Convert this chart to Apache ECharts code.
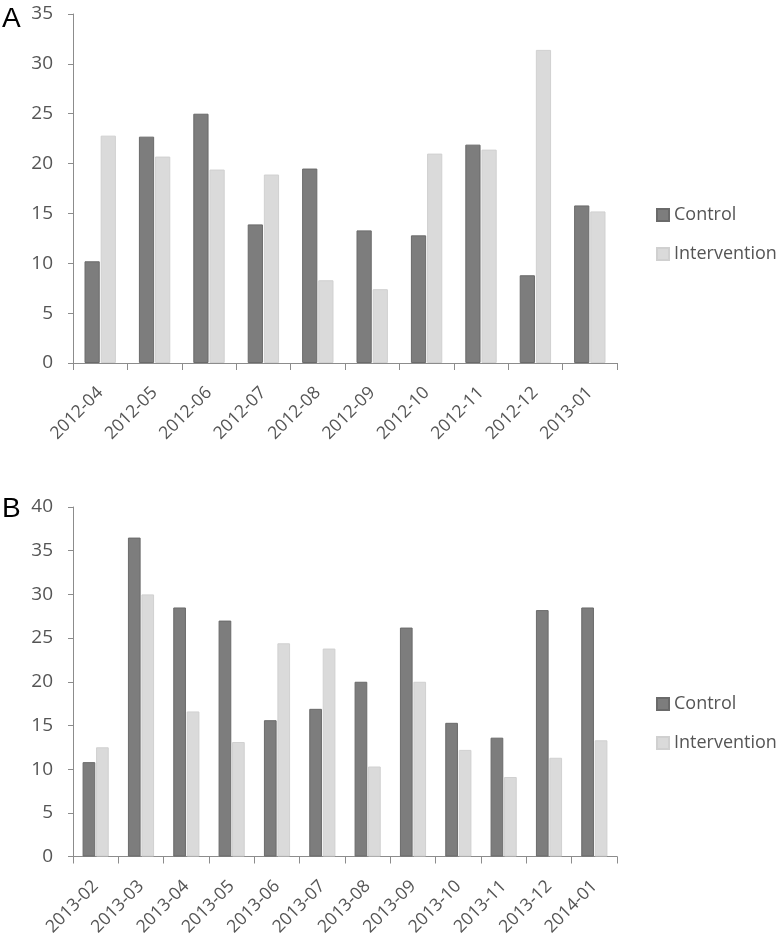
<!DOCTYPE html>
<html>
<head>
<meta charset="utf-8">
<script src="https://cdn.jsdelivr.net/npm/echarts@6/dist/echarts.min.js"></script>
<style>html,body{margin:0;padding:0;background:#fff;}#c{width:780px;height:942px;}</style>
</head>
<body>
<div id="c"></div>
<script>
// Panel A
const catsA = ['2012-04','2012-05','2012-06','2012-07','2012-08','2012-09','2012-10','2012-11','2012-12','2013-01'];
const controlA = [10.2, 22.7, 25.0, 13.9, 19.5, 13.3, 12.8, 21.9, 8.8, 15.8];
const interventionA = [22.8, 20.7, 19.4, 18.9, 8.3, 7.4, 21.0, 21.4, 31.4, 15.2];
// Panel B
const catsB = ['2013-02','2013-03','2013-04','2013-05','2013-06','2013-07','2013-08','2013-09','2013-10','2013-11','2013-12','2014-01'];
const controlB = [10.8, 36.5, 28.5, 27.0, 15.6, 16.9, 20.0, 26.2, 15.3, 13.6, 28.2, 28.5];
const interventionB = [12.5, 30.0, 16.6, 13.1, 24.4, 23.8, 10.3, 20.0, 12.2, 9.1, 11.3, 13.3];
const seriesNames = ['Control', 'Intervention'];
const panelLabels = ['A', 'B'];

const FONT = '"Open Sans", "Noto Sans", sans-serif';
const TXT = '#555555';
const AX = '#8c8c8c';
const C_CTRL = '#7d7d7d';
const C_INT = '#dadada';

function xAx(cats, gi) {
  return {
    type: 'category', gridIndex: gi, data: cats,
    axisLine: {lineStyle: {color: AX, width: 1}},
    axisTick: {show: true, length: 7, lineStyle: {color: AX}, alignWithLabel: false},
    axisLabel: {rotate: 45, interval: 0, margin: 27, color: TXT, fontFamily: FONT, fontSize: 17.5}
  };
}
function yAx(max, gi) {
  return {
    type: 'value', gridIndex: gi, min: 0, max: max, interval: 5,
    axisLine: {show: true, lineStyle: {color: AX, width: 1}},
    axisTick: {show: true, length: 5, lineStyle: {color: AX}},
    splitLine: {show: false},
    axisLabel: {margin: 20, color: TXT, fontFamily: FONT, fontSize: 19}
  };
}
function bar(name, data, gi, color, border) {
  return {
    name: name, type: 'bar', xAxisIndex: gi, yAxisIndex: gi, data: data,
    barWidth: '28%', barGap: '6%',
    itemStyle: {color: color, borderColor: border, borderWidth: 1},
    emphasis: {disabled: true}
  };
}
function legend(top) {
  return {
    orient: 'vertical', left: 651, top: top, itemWidth: 12, itemHeight: 12, itemGap: 19,
    icon: 'rect', data: seriesNames,
    textStyle: {color: TXT, fontFamily: FONT, fontSize: 18, lineHeight: 20}
  };
}
function title(text, top) {
  return {
    text: text, left: 2, top: top, padding: 0,
    textStyle: {color: '#000', fontSize: 28, fontWeight: 'normal', fontFamily: '"Liberation Sans", Arial, sans-serif'}
  };
}

const chart = echarts.init(document.getElementById('c'), null, {renderer: 'canvas'});
chart.setOption({
  animation: false,
  backgroundColor: '#fff',
  title: [title(panelLabels[0], 5), title(panelLabels[1], 495)],
  grid: [
    {left: 73, right: 163, top: 14, height: 349},
    {left: 73, right: 163, top: 507, height: 349.5}
  ],
  xAxis: [xAx(catsA, 0), xAx(catsB, 1)],
  yAxis: [yAx(35, 0), yAx(40, 1)],
  legend: [legend(200), legend(689)],
  series: [
    bar(seriesNames[0], controlA, 0, C_CTRL, '#6a6a6a'),
    bar(seriesNames[1], interventionA, 0, C_INT, '#d0d0d0'),
    bar(seriesNames[0], controlB, 1, C_CTRL, '#6a6a6a'),
    bar(seriesNames[1], interventionB, 1, C_INT, '#d0d0d0')
  ]
});
</script>
</body>
</html>
